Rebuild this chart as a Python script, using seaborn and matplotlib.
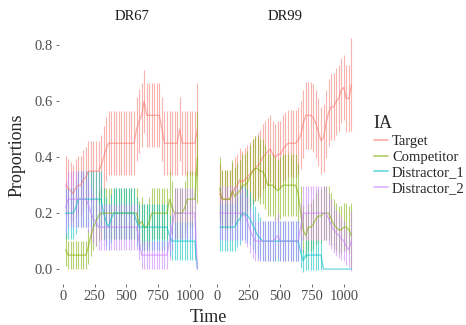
import numpy as np
import pandas as pd
import matplotlib
matplotlib.use('Agg')
import matplotlib.pyplot as plt
import seaborn as sns
from matplotlib.lines import Line2D

# time bins (ms)
time = list(range(20, 1061, 20))
ia_levels = ['Target', 'Competitor', 'Distractor_1', 'Distractor_2']
colors = ['#F8766D', '#7CAE00', '#00BFC4', '#C77CFF']

# DR67 proportions per bin
dr67_target = [0.30, 0.29, 0.28, 0.27, 0.29, 0.30, 0.30, 0.32, 0.33, 0.35,
               0.35, 0.35, 0.35, 0.35, 0.37, 0.40, 0.43, 0.45, 0.45, 0.45,
               0.45, 0.45, 0.45, 0.45, 0.45, 0.45, 0.45, 0.45, 0.50, 0.53,
               0.55, 0.60, 0.55, 0.55, 0.55, 0.55, 0.55, 0.55, 0.50, 0.45,
               0.45, 0.45, 0.45, 0.45, 0.45, 0.50, 0.45, 0.45, 0.45, 0.45,
               0.45, 0.45, 0.50]
dr67_competitor = [0.07, 0.05, 0.05, 0.05, 0.05, 0.05, 0.05, 0.05, 0.05, 0.08,
                   0.12, 0.15, 0.17, 0.19, 0.20, 0.20, 0.20, 0.20, 0.20, 0.20,
                   0.20, 0.20, 0.20, 0.20, 0.20, 0.20, 0.20, 0.20, 0.20, 0.16,
                   0.17, 0.15, 0.15, 0.17, 0.20, 0.20, 0.20, 0.20, 0.20, 0.20,
                   0.20, 0.25, 0.22, 0.20, 0.20, 0.20, 0.20, 0.22, 0.25, 0.25,
                   0.25, 0.25, 0.40]
dr67_distractor1 = [0.20, 0.20, 0.20, 0.20, 0.22, 0.25, 0.25, 0.25, 0.25, 0.25,
                    0.25, 0.25, 0.25, 0.25, 0.25, 0.20, 0.17, 0.15, 0.18, 0.20,
                    0.20, 0.20, 0.20, 0.20, 0.20, 0.20, 0.20, 0.20, 0.17, 0.15,
                    0.15, 0.15, 0.15, 0.15, 0.15, 0.15, 0.15, 0.15, 0.15, 0.15,
                    0.15, 0.12, 0.10, 0.10, 0.10, 0.10, 0.10, 0.10, 0.10, 0.10,
                    0.10, 0.10, 0.00]
dr67_distractor2 = [0.22, 0.25, 0.25, 0.25, 0.25, 0.25, 0.25, 0.25, 0.25, 0.23,
                    0.20, 0.18, 0.17, 0.15, 0.15, 0.15, 0.15, 0.15, 0.15, 0.15,
                    0.15, 0.15, 0.15, 0.15, 0.15, 0.15, 0.15, 0.15, 0.15, 0.10,
                    0.05, 0.05, 0.05, 0.05, 0.05, 0.05, 0.05, 0.05, 0.05, 0.05,
                    0.05, 0.10, 0.15, 0.20, 0.20, 0.20, 0.20, 0.20, 0.20, 0.20,
                    0.20, 0.20, 0.00]

# DR99 proportions per bin
dr99_target = [0.27, 0.25, 0.25, 0.25, 0.25, 0.27, 0.29, 0.30, 0.32, 0.31,
               0.32, 0.33, 0.34, 0.35, 0.36, 0.37, 0.38, 0.40, 0.41, 0.42,
               0.43, 0.41, 0.40, 0.41, 0.41, 0.43, 0.44, 0.45, 0.45, 0.45,
               0.45, 0.46, 0.48, 0.52, 0.55, 0.55, 0.55, 0.54, 0.52, 0.49,
               0.46, 0.47, 0.52, 0.56, 0.58, 0.58, 0.60, 0.61, 0.64, 0.65,
               0.61, 0.61, 0.66]
dr99_competitor = [0.29, 0.25, 0.25, 0.25, 0.25, 0.28, 0.26, 0.27, 0.28, 0.30,
                   0.30, 0.31, 0.33, 0.35, 0.36, 0.36, 0.35, 0.35, 0.33, 0.30,
                   0.30, 0.30, 0.29, 0.28, 0.29, 0.30, 0.30, 0.30, 0.30, 0.30,
                   0.30, 0.27, 0.20, 0.14, 0.12, 0.15, 0.15, 0.16, 0.18, 0.19,
                   0.19, 0.20, 0.20, 0.20, 0.18, 0.16, 0.15, 0.14, 0.14, 0.15,
                   0.15, 0.14, 0.12]
dr99_distractor1 = [0.15, 0.15, 0.15, 0.15, 0.15, 0.15, 0.15, 0.17, 0.18, 0.20,
                    0.20, 0.19, 0.18, 0.16, 0.14, 0.12, 0.11, 0.10, 0.10, 0.10,
                    0.10, 0.10, 0.10, 0.10, 0.10, 0.10, 0.10, 0.10, 0.10, 0.10,
                    0.10, 0.10, 0.06, 0.03, 0.05, 0.05, 0.05, 0.05, 0.05, 0.05,
                    0.05, 0.00, 0.00, 0.00, 0.00, 0.00, 0.00, 0.00, 0.00, 0.00,
                    0.00, 0.00, 0.00]
dr99_distractor2 = [0.20, 0.20, 0.20, 0.20, 0.20, 0.20, 0.20, 0.20, 0.20, 0.20,
                    0.19, 0.17, 0.14, 0.12, 0.10, 0.10, 0.10, 0.10, 0.10, 0.10,
                    0.10, 0.10, 0.11, 0.12, 0.10, 0.10, 0.10, 0.10, 0.10, 0.10,
                    0.10, 0.10, 0.15, 0.20, 0.20, 0.20, 0.20, 0.20, 0.20, 0.20,
                    0.20, 0.20, 0.20, 0.18, 0.16, 0.14, 0.13, 0.12, 0.11, 0.10,
                    0.08, 0.07, 0.10]

# number of trials per bin (last bin has fewer)
n_dr67 = [20] * 52 + [10]
n_dr99 = [18] * 52 + [9]

panels = {
    'DR67': ([dr67_target, dr67_competitor, dr67_distractor1, dr67_distractor2], n_dr67),
    'DR99': ([dr99_target, dr99_competitor, dr99_distractor1, dr99_distractor2], n_dr99),
}

rows = []
for panel, (series, n_list) in panels.items():
    for ia, vals in zip(ia_levels, series):
        for t, p, n in zip(time, vals, n_list):
            rows.append({'Panel': panel, 'IA': ia, 'Time': t, 'Proportion': p, 'n': n})
df = pd.DataFrame(rows)
# standard error of a proportion (mean_se of binary responses)
df['se'] = np.sqrt(df['Proportion'] * (1 - df['Proportion']) / (df['n'] - 1))
df['lo'] = df['Proportion'] - df['se']
df['hi'] = df['Proportion'] + df['se']

sns.set_theme(style='ticks')
plt.rcParams['font.family'] = ['Liberation Serif', 'DejaVu Serif']

fig, axes = plt.subplots(1, 2, figsize=(4.66, 3.25), dpi=100, sharex=True, sharey=True)
fig.subplots_adjust(left=0.1266, right=0.7682, bottom=0.1262, top=0.92, wspace=0.062)

for ax, panel in zip(axes, ['DR67', 'DR99']):
    sub = df[df['Panel'] == panel]
    for ia, c in zip(ia_levels, colors):
        s = sub[sub['IA'] == ia]
        ax.vlines(s['Time'], s['lo'], s['hi'], color=c, alpha=0.55, lw=0.8)
    sns.lineplot(data=sub, x='Time', y='Proportion', hue='IA', hue_order=ia_levels,
                 palette=colors, estimator=None, legend=False, lw=0.9, alpha=0.6, ax=ax)
    ax.set_title(panel, fontsize=10.5, pad=4.5, color='#1a1a1a')
    ax.set_xlabel('')
    ax.set_ylabel('')
    ax.margins(x=0.05, y=0.05)
    for sp in ax.spines.values():
        sp.set_visible(False)
    ax.set_xticks([0, 250, 500, 750, 1000])
    ax.set_yticks([0.0, 0.2, 0.4, 0.6, 0.8])
    ax.set_yticklabels(['0.0', '0.2', '0.4', '0.6', '0.8'])
    ax.tick_params(axis='both', length=2.5, width=0.6, color='#555555',
                   labelsize=10.5, labelcolor='#4d4d4d', pad=2)

axes[1].tick_params(axis='y', left=False)

fig.text(0.447, 1 - 318 / 325, 'Time', ha='center', va='center', fontsize=13)
fig.text(17 / 466, 1 - 155 / 325, 'Proportions', ha='center', va='center',
         rotation=90, fontsize=13)

handles = [Line2D([0], [0], color=c, lw=1.2, alpha=0.6) for c in colors]
fig.legend(handles, ia_levels, title='IA', loc='upper left',
           bbox_to_anchor=(0.802, 1 - 115 / 325), frameon=False, fontsize=10.5,
           title_fontsize=13, handlelength=0.95, handletextpad=0.3,
           labelspacing=0.18, alignment='left', borderpad=0, borderaxespad=0)

fig.savefig('out.png', dpi=100)
